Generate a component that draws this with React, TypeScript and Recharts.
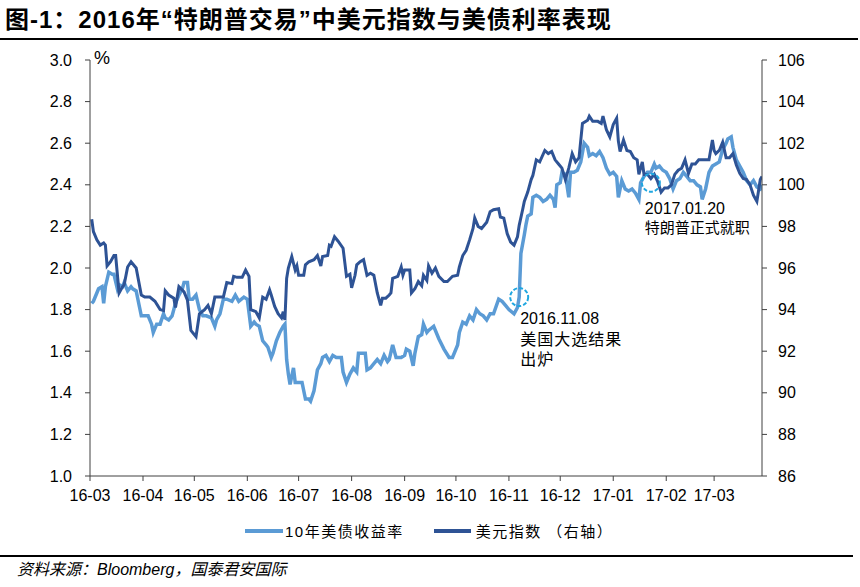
import React from 'react';
import { LineChart, Line, XAxis, YAxis, ReferenceDot } from 'recharts';

// x values are day offsets from 2016-03-01
const usdDays = [1, 2, 4, 6, 8, 9, 10, 12, 14, 15, 17, 19, 20, 22, 24, 27, 30, 32, 35, 38, 41, 43, 44, 46, 49, 50, 52, 55, 57, 59, 62, 64, 67, 69, 71, 73, 76, 78, 80, 83, 84, 86, 89, 91, 93, 94, 97, 99, 101, 103, 105, 106, 108, 110, 112, 113, 114, 115, 116, 118, 120, 121, 122, 125, 126, 128, 131, 133, 135, 136, 139, 140, 141, 143, 145, 148, 150, 151, 152, 153, 155, 156, 158, 160, 162, 164, 166, 168, 170, 171, 173, 175, 176, 177, 180, 182, 183, 184, 187, 188, 190, 192, 194, 195, 197, 198, 200, 202, 204, 207, 209, 212, 215, 216, 218, 220, 222, 224, 225, 227, 229, 232, 234, 236, 239, 240, 242, 244, 246, 248, 250, 251, 253, 254, 256, 258, 259, 261, 263, 266, 268, 270, 272, 274, 276, 278, 280, 282, 284, 286, 288, 291, 292, 294, 297, 299, 300, 302, 304, 306, 308, 309, 310, 312, 314, 316, 318, 320, 321, 323, 324, 326, 328, 330, 332, 334, 336, 338, 340, 342, 344, 346, 348, 350, 352, 354, 356, 359, 362, 364, 365, 366, 368, 370, 372, 374, 376, 378, 380, 382, 384, 386, 388, 390, 392, 393];
const usdIndex = [98.34, 97.75, 97.35, 97.1, 97.2, 97.1, 96.1, 96.3, 96.6, 96.6, 94.8, 95.1, 95.2, 96.05, 96.3, 96.0, 94.7, 94.6, 94.6, 94.4, 94.0, 93.95, 94.9, 94.7, 94.55, 94.1, 95.1, 94.85, 94.45, 93.0, 92.7, 93.8, 94.0, 94.2, 93.8, 94.6, 94.6, 94.6, 95.3, 95.25, 95.6, 95.55, 95.55, 95.9, 95.6, 94.0, 93.9, 93.6, 94.6, 94.5, 94.95, 94.7, 94.15, 93.8, 93.6, 93.9, 93.5, 95.5, 96.0, 96.55, 95.9, 96.1, 95.65, 95.65, 96.15, 96.3, 96.4, 96.6, 96.1, 96.55, 96.6, 97.1, 97.05, 97.5, 97.3, 96.95, 95.6, 95.65, 95.7, 95.05, 95.65, 96.15, 96.3, 96.4, 95.65, 95.75, 95.65, 94.8, 94.2, 94.55, 94.55, 94.7, 94.8, 95.5, 95.6, 96.05, 95.65, 95.9, 95.9, 94.8, 95.0, 95.35, 95.15, 95.65, 95.4, 96.1, 95.75, 96.0, 95.6, 95.35, 95.35, 95.6, 95.65, 96.05, 96.6, 96.85, 97.35, 97.9, 98.4, 98.0, 97.9, 98.2, 98.7, 98.8, 98.85, 98.45, 98.4, 97.65, 97.25, 97.1, 97.5, 98.05, 98.8, 99.2, 99.65, 100.25, 100.45, 101.2, 101.1, 101.65, 101.5, 101.6, 101.2, 101.0, 100.8, 100.25, 100.8, 101.5, 101.1, 101.3, 102.95, 103.1, 103.3, 103.05, 103.05, 102.95, 103.3, 102.65, 102.3, 102.9, 103.2, 102.1, 101.6, 102.15, 101.65, 101.6, 101.3, 101.2, 100.5, 101.1, 100.5, 100.5, 100.3, 100.5, 100.15, 99.65, 99.85, 99.85, 100.0, 100.5, 100.7, 100.8, 101.2, 100.55, 101.0, 101.0, 101.2, 101.2, 101.2, 102.15, 101.65, 101.5, 101.65, 102.05, 101.3, 101.3, 101.5, 100.95, 100.55, 100.3, 100.25, 100.0, 99.5, 99.2, 100.25, 100.4];

const ustDays = [1, 2, 4, 5, 7, 8, 9, 11, 13, 14, 16, 17, 19, 20, 22, 24, 25, 27, 29, 30, 32, 34, 36, 37, 39, 41, 43, 44, 46, 48, 50, 52, 54, 55, 57, 58, 60, 62, 64, 66, 68, 71, 73, 74, 76, 78, 80, 83, 85, 87, 90, 92, 94, 96, 97, 99, 101, 103, 104, 106, 107, 109, 111, 113, 114, 115, 116, 117, 119, 120, 122, 124, 126, 128, 129, 131, 133, 135, 136, 138, 140, 142, 144, 147, 148, 150, 152, 154, 156, 157, 159, 161, 162, 164, 166, 168, 170, 172, 174, 175, 177, 179, 182, 184, 185, 187, 189, 190, 192, 194, 195, 197, 198, 201, 204, 207, 210, 212, 215, 216, 218, 220, 222, 224, 226, 228, 230, 232, 234, 236, 239, 241, 243, 245, 248, 250, 251, 252, 254, 255, 256, 258, 259, 261, 263, 265, 267, 269, 271, 272, 273, 275, 276, 278, 280, 281, 283, 285, 287, 289, 291, 292, 294, 296, 298, 300, 302, 304, 306, 308, 309, 311, 313, 315, 317, 319, 321, 322, 324, 326, 328, 330, 331, 333, 335, 337, 339, 341, 343, 345, 347, 349, 351, 353, 355, 357, 358, 360, 362, 364, 366, 368, 370, 372, 373, 375, 376, 378, 380, 382, 384, 386, 388, 390, 392, 393];
const ustYield = [1.83, 1.84, 1.88, 1.9, 1.91, 1.83, 1.91, 1.98, 1.97, 1.97, 1.9, 1.92, 1.91, 1.93, 1.89, 1.91, 1.9, 1.89, 1.81, 1.77, 1.77, 1.77, 1.73, 1.69, 1.73, 1.73, 1.78, 1.76, 1.75, 1.77, 1.83, 1.87, 1.9, 1.93, 1.93, 1.85, 1.85, 1.87, 1.8, 1.77, 1.77, 1.76, 1.72, 1.75, 1.78, 1.85, 1.85, 1.84, 1.87, 1.84, 1.86, 1.85, 1.72, 1.74, 1.73, 1.72, 1.65, 1.63, 1.62, 1.57, 1.59, 1.65, 1.69, 1.72, 1.73, 1.56, 1.49, 1.44, 1.52, 1.45, 1.45, 1.45, 1.37, 1.37, 1.36, 1.41, 1.51, 1.54, 1.57, 1.58, 1.55, 1.58, 1.57, 1.57, 1.5, 1.45, 1.49, 1.52, 1.5, 1.59, 1.59, 1.59, 1.51, 1.52, 1.54, 1.56, 1.54, 1.58, 1.55, 1.56, 1.63, 1.57, 1.57, 1.58, 1.61, 1.6, 1.53, 1.59, 1.67, 1.68, 1.73, 1.69, 1.7, 1.72, 1.66, 1.61, 1.57, 1.57, 1.63, 1.69, 1.74, 1.73, 1.77, 1.75, 1.8, 1.78, 1.77, 1.75, 1.78, 1.78, 1.85, 1.84, 1.82, 1.8, 1.78, 1.81, 1.86, 2.07, 2.16, 2.21, 2.25, 2.26, 2.34, 2.35, 2.34, 2.32, 2.33, 2.35, 2.33, 2.29, 2.4, 2.41, 2.46, 2.45, 2.34, 2.46, 2.46, 2.47, 2.51, 2.6, 2.58, 2.54, 2.55, 2.54, 2.56, 2.53, 2.48, 2.45, 2.46, 2.44, 2.34, 2.42, 2.38, 2.37, 2.38, 2.36, 2.33, 2.41, 2.44, 2.46, 2.46, 2.5, 2.48, 2.49, 2.47, 2.46, 2.43, 2.38, 2.42, 2.43, 2.46, 2.44, 2.42, 2.42, 2.4, 2.39, 2.33, 2.38, 2.46, 2.49, 2.5, 2.51, 2.57, 2.6, 2.62, 2.63, 2.58, 2.52, 2.49, 2.46, 2.42, 2.4, 2.42, 2.39, 2.38, 2.4];

const monthTicks = [0, 31, 61, 92, 122, 153, 184, 214, 245, 275, 306, 337, 365];
const monthLabels = ['16-03', '16-04', '16-05', '16-06', '16-07', '16-08', '16-09', '16-10', '16-11', '16-12', '17-01', '17-02', '17-03'];
const yieldTicks = [1.0, 1.2, 1.4, 1.6, 1.8, 2.0, 2.2, 2.4, 2.6, 2.8, 3.0];
const usdTicks = [86, 88, 90, 92, 94, 96, 98, 100, 102, 104, 106];

const electionDay = { day: 251, value: 1.86, lines: ['2016.11.08', '美国大选结果', '出炉'] };
const inaugurationDay = { day: 328, value: 100.1, lines: ['2017.01.20', '特朗普正式就职'] };

const LIGHT = '#5b9bd5';
const DARK = '#2e5395';
const MARK = '#1fa6e0';
const FONT = '"Liberation Sans", Arial, "Noto Sans CJK SC", sans-serif';

const usdData = usdDays.map((d, i) => ({ day: d, value: usdIndex[i] }));
const ustData = ustDays.map((d, i) => ({ day: d, value: ustYield[i] }));

const noteLabel = (lines: string[], dx: number, dy: number[], cjkSize: number, spacing: number) => (props: any) => {
  const vb = props.viewBox || {};
  const cx = vb.x + vb.width / 2;
  const cy = vb.y + vb.height / 2;
  return (
    <g>
      {lines.map((t, i) => (
        <text key={i} x={cx + dx} y={cy + dy[i]} fontSize={i === 0 ? 16 : cjkSize} fill="#000" fontFamily={FONT}
          letterSpacing={i === 0 ? 0 : spacing}>
          {t}
        </text>
      ))}
    </g>
  );
};

export default function App() {
  return (
    <div style={{ position: 'absolute', left: 0, top: 0, width: 860, height: 587, background: '#fff', fontFamily: FONT }}>
      <div style={{ position: 'absolute', left: 5, top: 5, fontSize: 24, fontWeight: 'bold', letterSpacing: 1, whiteSpace: 'nowrap', lineHeight: '30px', color: '#000' }}>
        图-1：2016年“特朗普交易”中美元指数与美债利率表现
      </div>
      <div style={{ position: 'absolute', left: 0, top: 38, width: 858, height: 1.5, background: '#000' }} />

      <div style={{ position: 'absolute', left: 0, top: 0 }}>
        <LineChart width={860} height={520} margin={{ top: 60, right: 38, left: 30, bottom: 14 }}>
          <XAxis
            dataKey="day"
            type="number"
            domain={[0, 393]}
            ticks={monthTicks}
            tickFormatter={(v: number) => monthLabels[monthTicks.indexOf(v)]}
            interval={0}
            height={30}
            tickSize={5}
            tickMargin={9}
            stroke="#404040"
            tick={{ fill: '#000', fontSize: 16, fontFamily: FONT }}
            allowDataOverflow
          />
          <YAxis
            yAxisId="left"
            domain={[1, 3]}
            ticks={yieldTicks}
            tickFormatter={(v: number) => v.toFixed(1)}
            width={60}
            tickSize={5}
            tickMargin={13}
            stroke="#404040"
            tick={{ fill: '#000', fontSize: 16, fontFamily: FONT }}
            interval={0}
          />
          <YAxis
            yAxisId="right"
            orientation="right"
            domain={[86, 106]}
            ticks={usdTicks}
            width={60}
            tickSize={5}
            tickMargin={11}
            stroke="#404040"
            tick={{ fill: '#000', fontSize: 16, fontFamily: FONT }}
            interval={0}
          />
          <Line
            yAxisId="left"
            data={ustData}
            dataKey="value"
            type="linear"
            stroke={LIGHT}
            strokeWidth={3.5}
            dot={false}
            activeDot={false}
            isAnimationActive={false}
          />
          <Line
            yAxisId="right"
            data={usdData}
            dataKey="value"
            type="linear"
            stroke={DARK}
            strokeWidth={3}
            dot={false}
            activeDot={false}
            isAnimationActive={false}
          />
          <ReferenceDot
            yAxisId="left"
            x={electionDay.day}
            y={electionDay.value}
            r={9}
            fill="none"
            stroke={MARK}
            strokeWidth={2}
            strokeDasharray="4 2"
            label={{ content: noteLabel(electionDay.lines, 1, [27, 48, 68], 16, 1) }}
          />
          <ReferenceDot
            yAxisId="right"
            x={inaugurationDay.day}
            y={inaugurationDay.value}
            r={9}
            fill="none"
            stroke={MARK}
            strokeWidth={2}
            strokeDasharray="4 2"
            label={{ content: noteLabel(inaugurationDay.lines, -6, [31, 50], 15, 0) }}
          />
        </LineChart>
      </div>

      <div style={{ position: 'absolute', left: 94, top: 48, fontSize: 18, color: '#000' }}>%</div>

      <div style={{ position: 'absolute', left: 245, top: 520, display: 'flex', alignItems: 'center', fontSize: 15, letterSpacing: 1.5, color: '#000', whiteSpace: 'nowrap' }}>
        <span style={{ display: 'inline-block', width: 38, height: 4, background: LIGHT, marginRight: 2 }} />
        <span>10年美债收益率</span>
        <span style={{ display: 'inline-block', width: 37, height: 4, background: DARK, marginLeft: 30, marginRight: 5 }} />
        <span>美元指数 （右轴）</span>
      </div>

      <div style={{ position: 'absolute', left: 0, top: 555, width: 853, height: 1.5, background: '#000' }} />
      <div style={{ position: 'absolute', left: 17, top: 556, fontSize: 16, fontStyle: 'italic', color: '#000', whiteSpace: 'nowrap' }}>
        资料来源：Bloomberg，国泰君安国际
      </div>
    </div>
  );
}
